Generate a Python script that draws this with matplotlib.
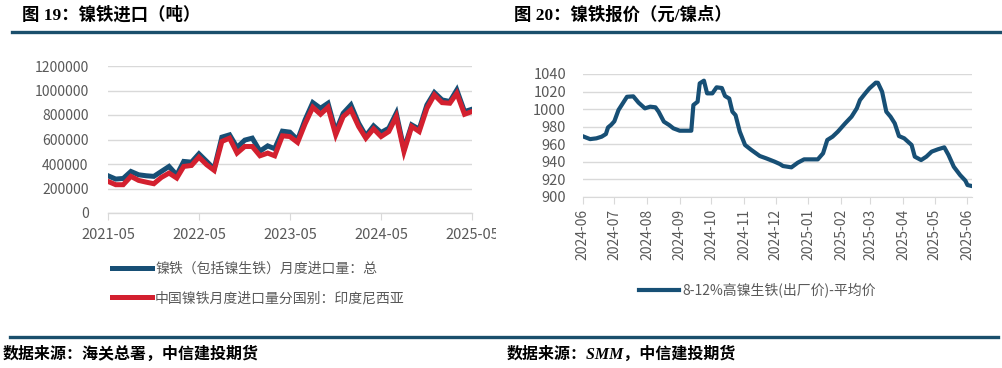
import matplotlib
matplotlib.use("Agg")
import matplotlib.pyplot as plt
import matplotlib.dates as mdates
from matplotlib.transforms import Bbox
import pandas as pd
import numpy as np

plt.rcParams['font.family'] = ['Noto Sans CJK SC', 'DejaVu Sans']

# ---------------- data ----------------
months_left = pd.date_range("2021-05-01", "2025-05-01", freq="MS")
total_import = [304, 277, 282, 339, 312, 304, 299, 339, 380, 310, 421, 415,
                483, 421, 360, 619, 638, 535, 595, 611, 505, 548, 525, 668,
                660, 597, 760, 901, 855, 896, 665, 814, 882, 733, 630, 711,
                657, 692, 814, 521, 719, 684, 882, 983, 923, 910, 1004, 828, 847]
indonesia_import = [258, 231, 231, 299, 266, 252, 239, 290, 326, 285, 380, 388,
                    456, 394, 348, 584, 611, 489, 543, 543, 467, 489, 467, 630,
                    624, 576, 728, 863, 806, 863, 638, 787, 842, 706, 611, 687,
                    624, 665, 787, 502, 706, 665, 855, 964, 901, 896, 977, 806, 828]
total_import = [v * 1000 for v in total_import]
indonesia_import = [v * 1000 for v in indonesia_import]
left_ticks = ["2021-05", "2022-05", "2023-05", "2024-05", "2025-05"]
left_yticks = [0, 200000, 400000, 600000, 800000, 1000000, 1200000]
left_labels = ["镍铁（包括镍生铁）月度进口量：总", "中国镍铁月度进口量分国别：印度尼西亚"]

price_dates = ["2024-06-01", "2024-06-08", "2024-06-14", "2024-06-19", "2024-06-23",
               "2024-06-25", "2024-06-28", "2024-07-01", "2024-07-05", "2024-07-08",
               "2024-07-13", "2024-07-19", "2024-07-24", "2024-07-30", "2024-08-04",
               "2024-08-09", "2024-08-12", "2024-08-17", "2024-08-22", "2024-08-26",
               "2024-09-01", "2024-09-12", "2024-09-14", "2024-09-18", "2024-09-20",
               "2024-09-24", "2024-09-27", "2024-10-02", "2024-10-06", "2024-10-11",
               "2024-10-14", "2024-10-18", "2024-10-21", "2024-10-24", "2024-10-28",
               "2024-11-02", "2024-11-08", "2024-11-16", "2024-11-22", "2024-11-30",
               "2024-12-05", "2024-12-08", "2024-12-16", "2024-12-22", "2024-12-28",
               "2025-01-10", "2025-01-15", "2025-01-19", "2025-01-24", "2025-01-29",
               "2025-02-05", "2025-02-11", "2025-02-16", "2025-02-19", "2025-02-24",
               "2025-02-28", "2025-03-06", "2025-03-08", "2025-03-12", "2025-03-16",
               "2025-03-20", "2025-03-24", "2025-03-28", "2025-04-02", "2025-04-09",
               "2025-04-12", "2025-04-18", "2025-04-23", "2025-04-28", "2025-05-04",
               "2025-05-10", "2025-05-14", "2025-05-19", "2025-05-25", "2025-05-30",
               "2025-06-01", "2025-06-05"]
price_values = [969.0, 965.7, 966.6, 968.5, 971.5,
                979.0, 982.0, 986.0, 999.0, 1004.6,
                1014.0, 1014.5, 1007.3, 1000.8, 1002.7,
                1002.0, 997.0, 985.6, 981.8, 978.0,
                975.3, 975.3, 1004.6, 1008.4, 1029.3,
                1032.4, 1017.9, 1017.9, 1024.8, 1024.0,
                1014.9, 1012.0, 997.0, 993.0, 974.2,
                959.0, 953.3, 946.4, 943.8, 940.0,
                937.3, 935.0, 933.5, 938.8, 942.6,
                942.6, 949.5, 964.7, 968.5, 974.2,
                983.7, 991.3, 1000.8, 1010.3, 1017.9,
                1023.6, 1030.1, 1030.0, 1019.8, 997.0,
                991.3, 983.7, 969.2, 966.6, 959.0,
                945.7, 941.8, 945.7, 951.4, 954.1,
                956.3, 947.6, 934.2, 924.7, 918.3,
                913.3, 912.2]
right_yticks = [900, 920, 940, 960, 980, 1000, 1020, 1040]
right_label = "8-12%高镍生铁(出厂价)-平均价"

# ---------------- figure ----------------
W, H = 1003, 368
fig = plt.figure(figsize=(W / 100, H / 100), dpi=100)
fig.patch.set_facecolor("white")

def fx(x):
    return x / W

def fy(y):
    return 1 - y / H

BLUE = "#174f75"
RED = "#d3202f"
GRID = "#d9d9d9"
TXT = "#595959"
BAR = "#1a4f6c"
SERIF_CJK = ['Liberation Serif', 'Noto Sans CJK SC']

# titles and separators
fig.text(fx(22), fy(15), "图 19：镍铁进口（吨）", fontsize=12.5, fontweight="bold",
         va="center", ha="left", color="black", family=SERIF_CJK)
fig.text(fx(514), fy(15), "图 20：镍铁报价（元/镍点）", fontsize=12.5, fontweight="bold",
         va="center", ha="left", color="black", family=SERIF_CJK)
fig.add_artist(plt.Line2D([fx(12), fx(1003)], [fy(31.5), fy(31.5)], color=BAR, lw=2.4))
fig.add_artist(plt.Line2D([fx(10), fx(998)], [fy(337), fy(337)], color=BAR, lw=2.4))
fig.text(fx(3), fy(355), "数据来源：海关总署，中信建投期货", fontsize=11.5,
         fontweight="bold", fontstyle="italic", va="center", ha="left", color="black",
         family=SERIF_CJK)
fig.text(fx(507), fy(355), "数据来源：SMM，中信建投期货", fontsize=11.5,
         fontweight="bold", fontstyle="italic", va="center", ha="left", color="black",
         family=SERIF_CJK)

# ---------------- left chart ----------------
axL = fig.add_axes([fx(108), fy(213), fx(472 - 108), (213 - 66) / H])
axL.plot(months_left, total_import, color=BLUE, lw=3.6, solid_joinstyle="miter",
         label=left_labels[0], zorder=3)
axL.plot(months_left, indonesia_import, color=RED, lw=3.6, solid_joinstyle="miter",
         label=left_labels[1], zorder=4)
axL.set_ylim(0, 1200000)
axL.set_xlim(months_left[0], months_left[-1])
axL.set_yticks(left_yticks)
axL.set_yticklabels([str(v) for v in left_yticks])
xt = pd.to_datetime([t + "-01" for t in left_ticks])
axL.set_xticks(xt)
axL.set_xticklabels(left_ticks)
axL.grid(axis="y", color=GRID, lw=1)
axL.set_axisbelow(True)
for s in ["top", "right", "left"]:
    axL.spines[s].set_visible(False)
axL.spines["bottom"].set_color(GRID)
axL.spines["bottom"].set_linewidth(1)
axL.tick_params(axis="y", length=0, pad=14, labelsize=10, labelcolor=TXT)
axL.tick_params(axis="x", length=5, color=GRID, pad=6, labelsize=10.5, labelcolor=TXT)
clip = Bbox.from_extents(0, 0, 496, H)
for lab in axL.get_xticklabels():
    lab.set_clip_box(clip)
    lab.set_clip_on(True)

fig.legend(loc="upper left", bbox_to_anchor=(fx(112), fy(262)),
           frameon=False, fontsize=10, handlelength=2.9, handletextpad=0.2,
           labelspacing=1.1, borderpad=0, borderaxespad=0, labelcolor=TXT,
           handles=axL.get_lines())

# ---------------- right chart ----------------
pdates = pd.to_datetime(price_dates)
axR = fig.add_axes([fx(582.7), fy(196.7), fx(971.7 - 582.7), (196.7 - 74) / H])
axR.plot(pdates, price_values, color=BLUE, lw=3.0, label=right_label,
         solid_joinstyle="round", zorder=3)
axR.set_ylim(900, 1040)
axR.set_yticks(right_yticks)
axR.set_xlim(pd.Timestamp("2024-06-01"), pd.Timestamp("2025-06-05"))
axR.xaxis.set_major_locator(mdates.MonthLocator())
axR.xaxis.set_major_formatter(mdates.DateFormatter("%Y-%m"))
axR.grid(axis="y", color=GRID, lw=1)
axR.set_axisbelow(True)
for s in ["top", "right", "left"]:
    axR.spines[s].set_visible(False)
axR.spines["bottom"].set_color(GRID)
axR.tick_params(axis="y", length=0, pad=12, labelsize=10.5, labelcolor=TXT)
axR.tick_params(axis="x", length=5, color=GRID, pad=4, labelsize=10, labelcolor=TXT,
                labelrotation=90)

fig.legend(handles=axR.get_lines(), loc="center left",
           bbox_to_anchor=(fx(639), fy(290)), frameon=False, fontsize=10,
           handlelength=2.9, handletextpad=0.2, borderpad=0, borderaxespad=0,
           labelcolor=TXT)

fig.savefig("out.png", dpi=100, facecolor="white")
